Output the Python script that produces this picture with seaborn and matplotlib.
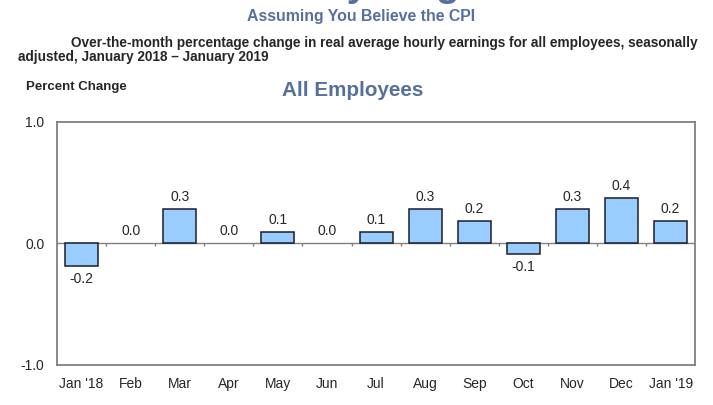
import matplotlib
matplotlib.use("Agg")
import matplotlib.pyplot as plt
import seaborn as sns
import pandas as pd
import numpy as np

# over-the-month change in real average hourly earnings
months = ["Jan '18", "Feb", "Mar", "Apr", "May", "Jun", "Jul",
          "Aug", "Sep", "Oct", "Nov", "Dec", "Jan '19"]
pct_change = [-0.19, 0.0, 0.28, 0.0, 0.09, 0.0, 0.09,
              0.28, 0.18, -0.09, 0.28, 0.37, 0.18]
value_labels = ["-0.2", "0.0", "0.3", "0.0", "0.1", "0.0", "0.1",
                "0.3", "0.2", "-0.1", "0.3", "0.4", "0.2"]
y_ticks = [-1.0, 0.0, 1.0]

sns.set_style("white")
plt.rcParams['font.family'] = ['Liberation Sans', 'DejaVu Sans']

TITLE_BLUE = '#56709e'
FRAME_GRAY = '#808080'

df = pd.DataFrame({'Month': months, 'Change': pct_change})

fig = plt.figure(figsize=(7.13, 4.05), dpi=100)
ax = fig.add_axes([0.080, 0.0988, 0.895, 0.601])

sns.barplot(data=df, x='Month', y='Change', color='#99ccff', saturation=1,
            edgecolor='#1c1c2c', linewidth=1.1, width=0.67, ax=ax, zorder=3)

# zero-height bars show no outline in the original
for patch in ax.containers[0]:
    if patch.get_height() == 0:
        patch.set_edgecolor('none')

ax.bar_label(ax.containers[0], labels=value_labels, padding=4, fontsize=10)

ax.set_xlim(-0.5, len(months) - 0.5)
ax.set_ylim(-1, 1)
ax.set_yticks(y_ticks)
ax.set_yticklabels([f"{v:.1f}" for v in y_ticks])
ax.set_xlabel("")
ax.set_ylabel("")
ax.tick_params(axis='x', length=0, pad=9, labelsize=10)
ax.tick_params(axis='y', length=0, pad=9, labelsize=10)

for sp in ax.spines.values():
    sp.set_color(FRAME_GRAY)
    sp.set_linewidth(1.3)

# zero line with small category separators
ax.axhline(0, color=FRAME_GRAY, lw=1.0, zorder=2)
ax.vlines(np.arange(0.5, len(months) - 0.5), -0.025, 0, color=FRAME_GRAY, lw=1.0, zorder=2)

# headings (the top one is cropped in the original, only descenders show)
fig.text(152 / 713, 1 + 3.5 / 405, "Real Hourly Wages", fontsize=28, fontweight='bold',
         color=TITLE_BLUE, ha='left', va='baseline')
fig.text(0.506, 1 - 16 / 405, "Assuming You Believe the CPI", fontsize=11.4,
         fontweight='bold', color=TITLE_BLUE, ha='center', va='center')
fig.text(71 / 713, 1 - 43 / 405,
         "Over-the-month percentage change in real average hourly earnings for all employees, seasonally",
         fontsize=9.8, fontweight='bold', ha='left', va='center')
fig.text(18 / 713, 1 - 57 / 405, "adjusted, January 2018 \u2013 January 2019",
         fontsize=9.8, fontweight='bold', ha='left', va='center')
fig.text(26 / 713, 1 - 87 / 405, "Percent Change", fontsize=9.5, fontweight='bold',
         ha='left', va='center')
fig.text(353 / 713, 1 - 90 / 405, "All Employees", fontsize=14.9, fontweight='bold',
         color=TITLE_BLUE, ha='center', va='center')

fig.savefig('out.png', dpi=100)
